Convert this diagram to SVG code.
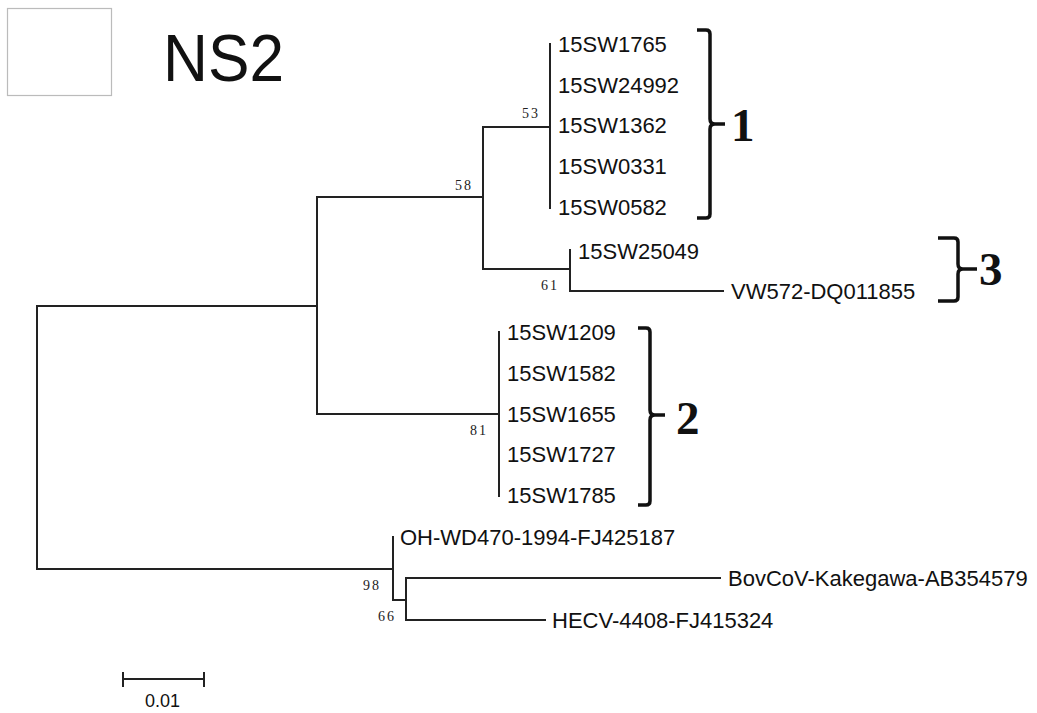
<svg xmlns="http://www.w3.org/2000/svg" width="1037" height="713" viewBox="0 0 1037 713">
<style>
.br{stroke:#222;stroke-width:2;fill:none;stroke-linecap:square}
.lf{font-family:"Liberation Sans",Arial,sans-serif;font-size:22px;fill:#111}
.bs{font-family:"Liberation Serif","Times New Roman",serif;font-size:14px;fill:#222;letter-spacing:2px}
.bk{stroke:#111;stroke-width:3.5;fill:none}
.cl{font-family:"Liberation Serif","Times New Roman",serif;font-size:47px;font-weight:bold;fill:#111}
</style>
<rect width="1037" height="713" fill="#fff"/>
<rect x="7.5" y="8.5" width="104" height="87" fill="#fff" stroke="#bbb" stroke-width="1.2"/>
<text x="163" y="81" font-family="'Liberation Sans',Arial,sans-serif" font-size="66" fill="#111" textLength="121" lengthAdjust="spacingAndGlyphs">NS2</text>
<g id="connectors">
<path class="br" d="M37,306 V569 M37,306 H317 M37,569 H393"/>
<path class="br" d="M317,197 V414 M317,197 H483 M317,414 H499"/>
<path class="br" d="M483,127 V269 M483,127 H550 M483,269 H570"/>
<path class="br" d="M550,44 V208"/>
<path class="br" d="M570,250 V291 M570,291 H723"/>
<path class="br" d="M499,332 V496"/>
<path class="br" d="M393,537 V600 M393,600 H406"/>
<path class="br" d="M406,578 V620 M406,578 H720 M406,620 H545"/>
</g>
<g id="bootstrap">
<text class="bs" x="455" y="190">58</text>
<text class="bs" x="522" y="118">53</text>
<text class="bs" x="541" y="290">61</text>
<text class="bs" x="470" y="435">81</text>
<text class="bs" x="363" y="590">98</text>
<text class="bs" x="378" y="621">66</text>
</g>
<g id="clade1-leaves">
<text class="lf" x="558" y="52">15SW1765</text>
<text class="lf" x="558" y="93">15SW24992</text>
<text class="lf" x="558" y="133">15SW1362</text>
<text class="lf" x="558" y="174">15SW0331</text>
<text class="lf" x="558" y="215">15SW0582</text>
</g>
<g id="clade3-leaves">
<text class="lf" x="578" y="259">15SW25049</text>
<text class="lf" x="731" y="299">VW572-DQ011855</text>
</g>
<g id="clade2-leaves">
<text class="lf" x="507" y="340">15SW1209</text>
<text class="lf" x="507" y="381">15SW1582</text>
<text class="lf" x="507" y="422">15SW1655</text>
<text class="lf" x="507" y="462">15SW1727</text>
<text class="lf" x="507" y="503">15SW1785</text>
</g>
<g id="outgroup-leaves">
<text class="lf" x="400" y="545">OH-WD470-1994-FJ425187</text>
<text class="lf" x="728" y="586">BovCoV-Kakegawa-AB354579</text>
<text class="lf" x="552" y="628">HECV-4408-FJ415324</text>
</g>
<g id="bracket1">
<path class="bk" d="M697,30 H706 Q710,30 710,34 V119 Q710,124 715,124 H725 M715,124 Q710,124 710,129 V214 Q710,218 706,218 H697"/>
<text class="cl" x="731" y="141">1</text>
</g>
<g id="bracket3">
<path class="bk" d="M938,238 H954 Q958,238 958,242 V264 Q958,269 963,269 H977 M963,269 Q958,269 958,274 V297 Q958,301 954,301 H938"/>
<text class="cl" x="979" y="285">3</text>
</g>
<g id="bracket2">
<path class="bk" d="M638,328 H646 Q650,328 650,332 V410 Q650,415 655,415 H665 M655,415 Q650,415 650,420 V501 Q650,505 646,505 H638"/>
<text class="cl" x="676" y="434">2</text>
</g>
<g id="scalebar">
<path stroke="#222" stroke-width="2" fill="none" d="M123,679 H204 M123,672 V687 M204,672 V687"/>
<text x="145" y="707" font-family="'Liberation Sans',Arial,sans-serif" font-size="18" fill="#111">0.01</text>
</g>
</svg>
